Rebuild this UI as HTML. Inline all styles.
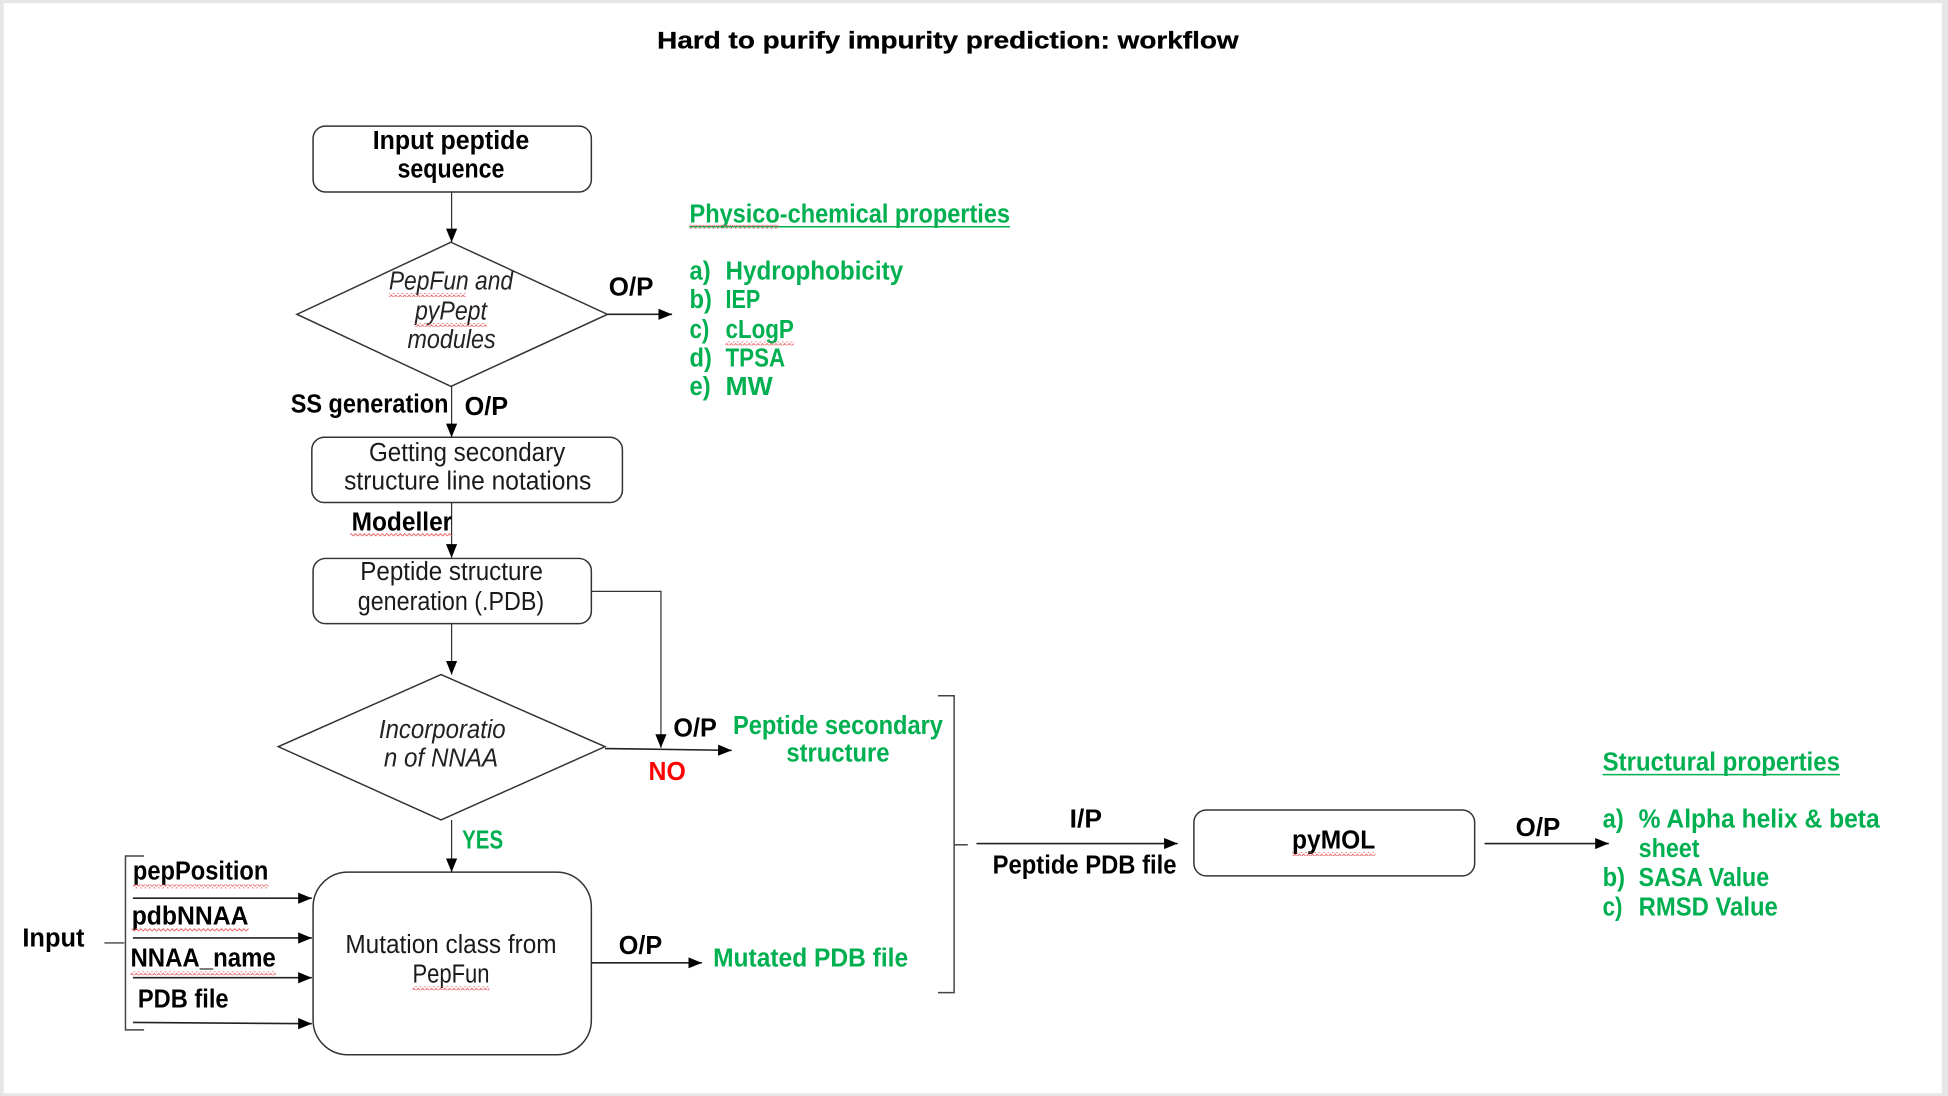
<!DOCTYPE html>
<html>
<head>
<meta charset="utf-8">
<title>Hard to purify impurity prediction: workflow</title>
<style>
html,body{margin:0;padding:0;background:#e6e6e6;}
svg{display:block;width:1948px;height:1096px;}
text{font-family:"Liberation Sans",sans-serif;font-size:20.5px;fill:#1a1a1a;}
.b{font-weight:bold;fill:#000;}
.g{font-weight:bold;fill:#00b050;}
.i{font-style:italic;fill:#222;}
.t{font-weight:bold;fill:#000;font-size:19.5px;stroke:#000;stroke-width:.25px;}
.shape{fill:none;stroke:#333;stroke-width:1.2;}
.l{fill:none;stroke:#333;stroke-width:1;}
.d{fill:none;stroke:#222;stroke-width:1.3;}
.br{fill:none;stroke:#444;stroke-width:1.2;}
</style>
</head>
<body>
<svg viewBox="0 0 1568 882.2" xmlns="http://www.w3.org/2000/svg">
<defs>
<marker id="a" markerUnits="userSpaceOnUse" markerWidth="12" markerHeight="10" refX="11" refY="5" orient="auto">
<path d="M0 0.5 L11 5 L0 9.5 Z" fill="#000"/>
</marker>
<pattern id="z" width="3.6" height="3" patternUnits="userSpaceOnUse">
<path d="M0 2.5 L1.8 0.5 L3.6 2.5" fill="none" stroke="#e8545a" stroke-width="0.7"/>
</pattern>
</defs>

<rect x="0" y="0" width="1568" height="882.2" fill="#e6e6e6"/>
<rect x="3" y="2.5" width="1560" height="877.5" fill="#fff"/>

<text class="t" x="529" y="39" textLength="468" lengthAdjust="spacingAndGlyphs">Hard to purify impurity prediction: workflow</text>

<!-- shapes -->
<rect class="shape" x="252" y="101.5" width="224" height="53" rx="10"/>
<path class="shape" d="M363 195 L489 253 L363 311 L239 253 Z"/>
<rect class="shape" x="251" y="352" width="250" height="52.5" rx="10"/>
<rect class="shape" x="252" y="449.5" width="224" height="52.5" rx="10"/>
<path class="shape" d="M355 543 L487 601 L355 660 L224 601 Z"/>
<rect class="shape" x="252" y="702" width="224" height="147" rx="28"/>
<rect class="shape" x="961" y="652" width="226" height="53" rx="10"/>

<!-- connectors -->
<line class="l" x1="363.5" y1="154" x2="363.5" y2="195" marker-end="url(#a)"/>
<line class="d" x1="489" y1="253" x2="541" y2="253" marker-end="url(#a)"/>
<line class="l" x1="363.5" y1="311" x2="363.5" y2="352" marker-end="url(#a)"/>
<line class="l" x1="363.5" y1="404" x2="363.5" y2="449" marker-end="url(#a)"/>
<line class="l" x1="363.5" y1="502" x2="363.5" y2="543" marker-end="url(#a)"/>
<path class="l" d="M476 476 H532 V602" marker-end="url(#a)"/>
<line class="d" x1="487" y1="602.5" x2="589" y2="604" marker-end="url(#a)"/>
<line class="l" x1="363.5" y1="660" x2="363.5" y2="702" marker-end="url(#a)"/>
<line class="d" x1="476" y1="775" x2="565" y2="775" marker-end="url(#a)"/>
<line class="d" x1="107" y1="723" x2="251" y2="723" marker-end="url(#a)"/>
<line class="d" x1="107" y1="755" x2="251" y2="755" marker-end="url(#a)"/>
<line class="d" x1="107" y1="787" x2="251" y2="787" marker-end="url(#a)"/>
<line class="d" x1="107" y1="823" x2="251" y2="824" marker-end="url(#a)"/>
<line class="d" x1="786" y1="679" x2="948" y2="679" marker-end="url(#a)"/>
<line class="d" x1="1195" y1="679" x2="1295" y2="679" marker-end="url(#a)"/>

<!-- brackets -->
<path class="br" d="M116 689 H101 V829 H116"/>
<path class="br" d="M84 759 H100"/>
<path class="br" d="M755 560 H768 V799 H755"/>
<path class="br" d="M768 680 H779"/>

<!-- box text -->
<text class="b" x="300" y="120" textLength="126" lengthAdjust="spacingAndGlyphs">Input peptide</text>
<text class="b" x="320" y="143" textLength="86" lengthAdjust="spacingAndGlyphs">sequence</text>

<text class="i" x="313" y="233" textLength="100" lengthAdjust="spacingAndGlyphs">PepFun and</text>
<text class="i" x="334" y="257" textLength="58" lengthAdjust="spacingAndGlyphs">pyPept</text>
<text class="i" x="328" y="280" textLength="71" lengthAdjust="spacingAndGlyphs">modules</text>

<text class="b" x="490" y="238" textLength="36" lengthAdjust="spacingAndGlyphs">O/P</text>
<text class="b" x="234" y="332" textLength="127" lengthAdjust="spacingAndGlyphs">SS generation</text>
<text class="b" x="374" y="334" textLength="35" lengthAdjust="spacingAndGlyphs">O/P</text>

<text x="297" y="371" textLength="158" lengthAdjust="spacingAndGlyphs">Getting secondary</text>
<text x="277" y="394" textLength="199" lengthAdjust="spacingAndGlyphs">structure line notations</text>

<text class="b" x="283" y="427" textLength="81" lengthAdjust="spacingAndGlyphs">Modeller</text>

<text x="290" y="467" textLength="147" lengthAdjust="spacingAndGlyphs">Peptide structure</text>
<text x="288" y="491" textLength="150" lengthAdjust="spacingAndGlyphs">generation (.PDB)</text>

<text class="i" x="305" y="594" textLength="102" lengthAdjust="spacingAndGlyphs">Incorporatio</text>
<text class="i" x="309" y="617" textLength="92" lengthAdjust="spacingAndGlyphs">n of NNAA</text>

<text class="b" x="542" y="593" textLength="35" lengthAdjust="spacingAndGlyphs">O/P</text>
<text class="g" x="590" y="591" textLength="169" lengthAdjust="spacingAndGlyphs">Peptide secondary</text>
<text class="g" x="633" y="613" textLength="83" lengthAdjust="spacingAndGlyphs">structure</text>
<text class="b" style="fill:#ff0000" x="522" y="628" textLength="30" lengthAdjust="spacingAndGlyphs">NO</text>
<text class="g" x="372" y="683" textLength="33" lengthAdjust="spacingAndGlyphs">YES</text>

<text x="278" y="767" textLength="170" lengthAdjust="spacingAndGlyphs">Mutation class from</text>
<text x="332" y="791" textLength="62" lengthAdjust="spacingAndGlyphs">PepFun</text>

<text class="b" x="498" y="768" textLength="35" lengthAdjust="spacingAndGlyphs">O/P</text>
<text class="g" x="574" y="778" textLength="157" lengthAdjust="spacingAndGlyphs">Mutated PDB file</text>

<text class="b" x="18" y="762" textLength="50" lengthAdjust="spacingAndGlyphs">Input</text>
<text class="b" x="107" y="708" textLength="109" lengthAdjust="spacingAndGlyphs">pepPosition</text>
<text class="b" x="106" y="744" textLength="94" lengthAdjust="spacingAndGlyphs">pdbNNAA</text>
<text class="b" x="105" y="778" textLength="117" lengthAdjust="spacingAndGlyphs">NNAA_name</text>
<text class="b" x="111" y="811" textLength="73" lengthAdjust="spacingAndGlyphs">PDB file</text>

<text class="b" x="861" y="666" textLength="26" lengthAdjust="spacingAndGlyphs">I/P</text>
<text class="b" x="799" y="703" textLength="148" lengthAdjust="spacingAndGlyphs">Peptide PDB file</text>
<text class="b" x="1040" y="683" textLength="67" lengthAdjust="spacingAndGlyphs">pyMOL</text>
<text class="b" x="1220" y="673" textLength="36" lengthAdjust="spacingAndGlyphs">O/P</text>

<!-- physico-chemical -->
<text class="g" x="555" y="179" textLength="258" lengthAdjust="spacingAndGlyphs">Physico-chemical properties</text>
<line x1="555" y1="182.5" x2="813" y2="182.5" stroke="#00b050" stroke-width="1.2"/>
<text class="g" x="555" y="225" textLength="17" lengthAdjust="spacingAndGlyphs">a)</text>
<text class="g" x="584" y="225" textLength="143" lengthAdjust="spacingAndGlyphs">Hydrophobicity</text>
<text class="g" x="555" y="248" textLength="18" lengthAdjust="spacingAndGlyphs">b)</text>
<text class="g" x="584" y="248" textLength="28" lengthAdjust="spacingAndGlyphs">IEP</text>
<text class="g" x="555" y="272" textLength="16" lengthAdjust="spacingAndGlyphs">c)</text>
<text class="g" x="584" y="272" textLength="55" lengthAdjust="spacingAndGlyphs">cLogP</text>
<text class="g" x="555" y="295" textLength="18" lengthAdjust="spacingAndGlyphs">d)</text>
<text class="g" x="584" y="295" textLength="48" lengthAdjust="spacingAndGlyphs">TPSA</text>
<text class="g" x="555" y="318" textLength="17" lengthAdjust="spacingAndGlyphs">e)</text>
<text class="g" x="584" y="318" textLength="38" lengthAdjust="spacingAndGlyphs">MW</text>

<!-- structural -->
<text class="g" x="1290" y="620" textLength="191" lengthAdjust="spacingAndGlyphs">Structural properties</text>
<line x1="1290" y1="623.5" x2="1481" y2="623.5" stroke="#00b050" stroke-width="1.2"/>
<text class="g" x="1290" y="666" textLength="17" lengthAdjust="spacingAndGlyphs">a)</text>
<text class="g" x="1319" y="666" textLength="194" lengthAdjust="spacingAndGlyphs">% Alpha helix &amp; beta</text>
<text class="g" x="1319" y="690" textLength="49" lengthAdjust="spacingAndGlyphs">sheet</text>
<text class="g" x="1290" y="713" textLength="18" lengthAdjust="spacingAndGlyphs">b)</text>
<text class="g" x="1319" y="713" textLength="105" lengthAdjust="spacingAndGlyphs">SASA Value</text>
<text class="g" x="1290" y="737" textLength="16" lengthAdjust="spacingAndGlyphs">c)</text>
<text class="g" x="1319" y="737" textLength="112" lengthAdjust="spacingAndGlyphs">RMSD Value</text>

<!-- spell-check squiggles -->
<g fill="url(#z)">
<rect x="555" y="181" width="72" height="3"/>
<rect x="584" y="275" width="55" height="3"/>
<rect x="313" y="236" width="62" height="3"/>
<rect x="334" y="260" width="58" height="3"/>
<rect x="282" y="429" width="82" height="3"/>
<rect x="107" y="712" width="109" height="3"/>
<rect x="106" y="747" width="94" height="3"/>
<rect x="105" y="782" width="117" height="3"/>
<rect x="332" y="794" width="62" height="3"/>
<rect x="1040" y="686" width="67" height="3"/>
</g>
</svg>
</body>
</html>
